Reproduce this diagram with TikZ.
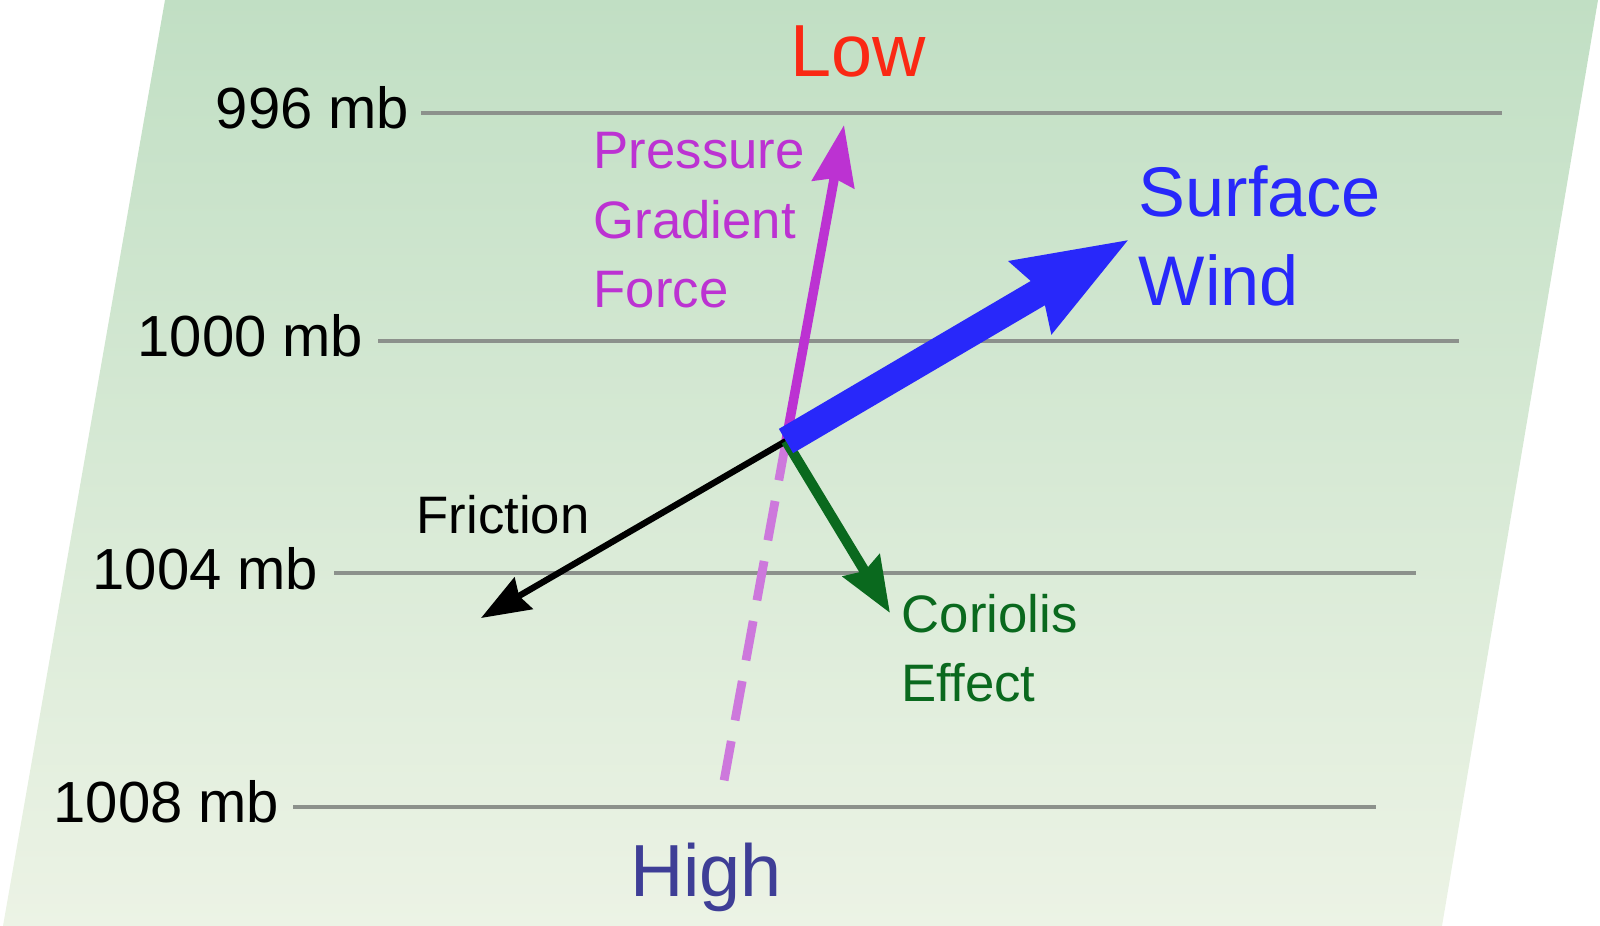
\documentclass[tikz,border=0pt]{standalone}
\usepackage{fontspec}
\setmainfont{Liberation Sans}
\usetikzlibrary{arrows.meta, positioning}
\definecolor{bgtop}{RGB}{193,223,196}
\definecolor{bgbot}{RGB}{236,243,229}
\definecolor{isogray}{RGB}{140,145,140}
\definecolor{lowred}{RGB}{250,40,20}
\definecolor{highblue}{RGB}{62,62,150}
\definecolor{pgfpurple}{RGB}{188,50,210}
\definecolor{pgflight}{RGB}{205,120,220}
\definecolor{windblue}{RGB}{40,40,250}
\definecolor{corgreen}{RGB}{10,105,30}

\begin{document}
\begin{tikzpicture}[x=0.1mm, y=-0.1mm,
      isobar/.style = {draw=isogray, line width=0.9pt},
     mblabel/.style = {anchor=base east, inner sep=0pt, font=\fontsize{16.5}{20}\selectfont},
      poleup/.style = {anchor=base, inner sep=0pt, font=\fontsize{21}{25}\selectfont},
      forcetxt/.style = {anchor=north west, inner sep=0pt, align=left, font=\fontsize{15}{19.7}\selectfont}
                    ]
\useasboundingbox (0,0) rectangle (1600,926);
\shade[top color=bgtop, bottom color=bgbot] (165,0) -- (1598,0) -- (1442,926) -- (3,926) -- cycle;

% isobars
\node (l996)  [mblabel] at (410,129) {996 mb};
\node (l1000) [mblabel] at (364,357) {1000 mb};
\node (l1004) [mblabel] at (319,589) {1004 mb};
\node (l1008) [mblabel] at (280,822) {1008 mb};
\coordinate (e996)  at (1502,113);
\coordinate (e1000) at (1459,341);
\coordinate (e1004) at (1416,573);
\coordinate (e1008) at (1376,807);
\draw[isobar] (l996.east  |- e996)  ++(11,0) -- (e996);
\draw[isobar] (l1000.east |- e1000) ++(14,0) -- (e1000);
\draw[isobar] (l1004.east |- e1004) ++(15,0) -- (e1004);
\draw[isobar] (l1008.east |- e1008) ++(13,0) -- (e1008);

\node (low)  [poleup, text=lowred]   at (858,77)  {Low};
\node (high) [poleup, text=highblue] at (706,896) {High};

% forces
\coordinate (hub)     at (786,441);
\coordinate (pgftip)  at (844,125);
\coordinate (pgfend)  at (724,781);
\coordinate (fritip)  at (481,618);
\coordinate (cortip)  at (890,613);
\coordinate (windtip) at (1130,239);

\draw[pgflight, line width=2.5pt, dash pattern=on 4mm off 2.1mm] (hub) -- (pgfend);
\draw[-{Stealth[length=6mm, width=4.2mm, inset=0.6mm]}, pgfpurple, line width=2.7pt] (hub) -- (pgftip);
\draw[-{Stealth[length=4.9mm, width=3.6mm, inset=0.5mm]}, black, line width=1.8pt] (hub) -- (fritip);
\draw[-{Stealth[length=5.5mm, width=4.2mm, inset=0.6mm]}, corgreen, line width=2.9pt] (hub) -- (cortip);
\draw[-{Stealth[length=11.2mm, width=7.8mm, inset=1mm]}, windblue, line width=8pt] (hub) -- (windtip);

\node (pgftxt)  [forcetxt, text=pgfpurple] at (593,132) {Pressure\\Gradient\\Force};
\node (windtxt) [forcetxt, text=windblue, font=\fontsize{20}{25.3}\selectfont] at (1138,165) {Surface\\Wind};
\node (cortxt)  [forcetxt, text=corgreen, font=\fontsize{15}{19.5}\selectfont] at (901,594) {Coriolis\\Effect};
\node (fritxt)  [anchor=base west, inner sep=0pt, font=\fontsize{15}{19}\selectfont] at (416,533) {Friction};
\end{tikzpicture}
\end{document}
